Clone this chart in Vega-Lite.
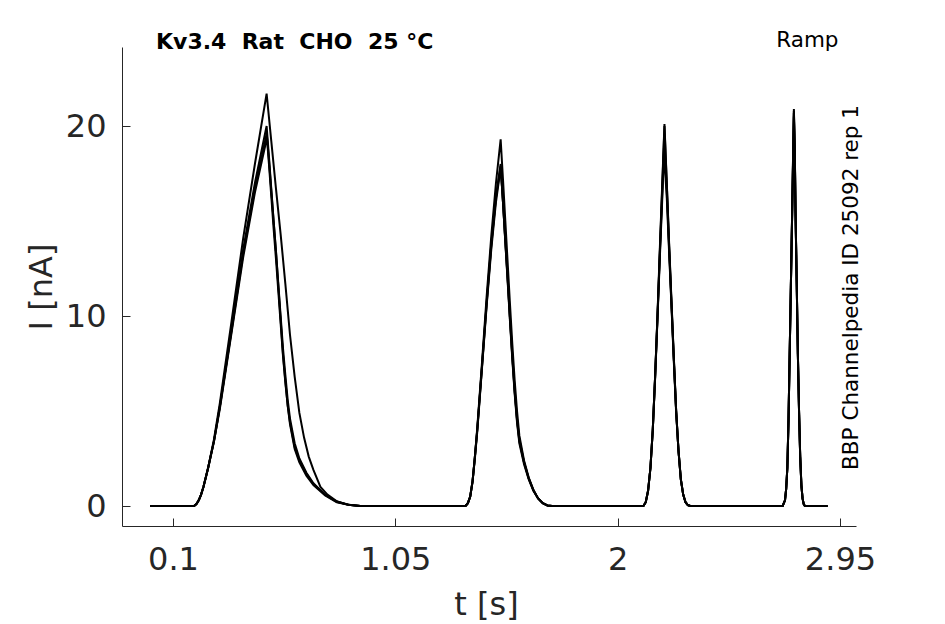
{
  "$schema": "https://vega.github.io/schema/vega-lite/v6.json",
  "width": 734,
  "height": 479,
  "autosize": {"type": "none"},
  "padding": {"left": 122, "top": 47, "right": 89, "bottom": 98},
  "background": "white",
  "config": {"view": {"stroke": null}, "font": "DejaVu Sans"},
  "title": {
    "text": "Kv3.4 \u00a0Rat \u00a0CHO \u00a025 °C",
    "anchor": "start",
    "frame": "group",
    "dx": 34,
    "offset": -42,
    "baseline": "alphabetic",
    "font": "DejaVu Sans",
    "fontSize": 22,
    "fontWeight": "bold",
    "color": "black"
  },
  "data": {"values": [
    {"rep":"A","t":0.002,"I":0},{"rep":"A","t":0.19,"I":0},{"rep":"A","t":0.2,"I":0.1},{"rep":"A","t":0.21,"I":0.3},{"rep":"A","t":0.22,"I":0.6},{"rep":"A","t":0.23,"I":1.0},{"rep":"A","t":0.24,"I":1.5},{"rep":"A","t":0.25,"I":2.0},{"rep":"A","t":0.275,"I":3.5},{"rep":"A","t":0.3,"I":5.4},{"rep":"A","t":0.35,"I":9.7},{"rep":"A","t":0.4,"I":14.1},{"rep":"A","t":0.45,"I":18.0},{"rep":"A","t":0.5,"I":21.7},{"rep":"A","t":0.52,"I":19.2},{"rep":"A","t":0.54,"I":16.7},{"rep":"A","t":0.56,"I":14.3},{"rep":"A","t":0.58,"I":11.7},{"rep":"A","t":0.6,"I":9.0},{"rep":"A","t":0.62,"I":6.8},{"rep":"A","t":0.64,"I":4.9},{"rep":"A","t":0.66,"I":3.6},{"rep":"A","t":0.68,"I":2.6},{"rep":"A","t":0.7,"I":1.9},{"rep":"A","t":0.73,"I":1.0},{"rep":"A","t":0.76,"I":0.6},{"rep":"A","t":0.8,"I":0.25},{"rep":"A","t":0.85,"I":0.06},{"rep":"A","t":0.9,"I":0},
    {"rep":"A","t":1.35,"I":0},{"rep":"A","t":1.36,"I":0.15},{"rep":"A","t":1.37,"I":0.5},{"rep":"A","t":1.38,"I":1.3},{"rep":"A","t":1.39,"I":2.6},{"rep":"A","t":1.4,"I":4.1},{"rep":"A","t":1.42,"I":7.5},{"rep":"A","t":1.44,"I":11.0},{"rep":"A","t":1.46,"I":14.2},{"rep":"A","t":1.48,"I":17.0},{"rep":"A","t":1.5,"I":19.3},{"rep":"A","t":1.51,"I":17.2},{"rep":"A","t":1.52,"I":15.0},{"rep":"A","t":1.53,"I":12.8},{"rep":"A","t":1.54,"I":10.6},{"rep":"A","t":1.55,"I":8.5},{"rep":"A","t":1.56,"I":6.6},{"rep":"A","t":1.57,"I":5.0},{"rep":"A","t":1.58,"I":3.7},{"rep":"A","t":1.6,"I":2.4},{"rep":"A","t":1.62,"I":1.5},{"rep":"A","t":1.64,"I":0.85},{"rep":"A","t":1.66,"I":0.4},{"rep":"A","t":1.68,"I":0.15},{"rep":"A","t":1.7,"I":0.03},{"rep":"A","t":1.72,"I":0},
    {"rep":"A","t":2.11,"I":0},{"rep":"A","t":2.12,"I":0.2},{"rep":"A","t":2.13,"I":0.8},{"rep":"A","t":2.14,"I":2.0},{"rep":"A","t":2.15,"I":4.0},{"rep":"A","t":2.16,"I":6.8},{"rep":"A","t":2.17,"I":10.0},{"rep":"A","t":2.18,"I":13.5},{"rep":"A","t":2.19,"I":16.8},{"rep":"A","t":2.2,"I":20.1},{"rep":"A","t":2.21,"I":17.0},{"rep":"A","t":2.22,"I":13.8},{"rep":"A","t":2.23,"I":10.8},{"rep":"A","t":2.24,"I":7.8},{"rep":"A","t":2.25,"I":5.0},{"rep":"A","t":2.26,"I":2.9},{"rep":"A","t":2.27,"I":1.4},{"rep":"A","t":2.28,"I":0.6},{"rep":"A","t":2.29,"I":0.2},{"rep":"A","t":2.3,"I":0.05},{"rep":"A","t":2.31,"I":0},
    {"rep":"A","t":2.705,"I":0},{"rep":"A","t":2.715,"I":0.3},{"rep":"A","t":2.72,"I":0.9},{"rep":"A","t":2.725,"I":2.0},{"rep":"A","t":2.73,"I":4.5},{"rep":"A","t":2.735,"I":8.0},{"rep":"A","t":2.74,"I":11.5},{"rep":"A","t":2.745,"I":15.0},{"rep":"A","t":2.75,"I":18.6},{"rep":"A","t":2.753,"I":20.7},{"rep":"A","t":2.757,"I":18.5},{"rep":"A","t":2.76,"I":15.5},{"rep":"A","t":2.765,"I":11.8},{"rep":"A","t":2.77,"I":8.0},{"rep":"A","t":2.775,"I":5.0},{"rep":"A","t":2.78,"I":2.6},{"rep":"A","t":2.785,"I":1.1},{"rep":"A","t":2.79,"I":0.4},{"rep":"A","t":2.795,"I":0.1},{"rep":"A","t":2.8,"I":0},{"rep":"A","t":2.897,"I":0},

    {"rep":"B","t":0.002,"I":0},{"rep":"B","t":0.19,"I":0},{"rep":"B","t":0.2,"I":0.1},{"rep":"B","t":0.21,"I":0.3},{"rep":"B","t":0.22,"I":0.6},{"rep":"B","t":0.23,"I":1.0},{"rep":"B","t":0.24,"I":1.5},{"rep":"B","t":0.25,"I":2.0},{"rep":"B","t":0.275,"I":3.4},{"rep":"B","t":0.3,"I":5.2},{"rep":"B","t":0.35,"I":9.3},{"rep":"B","t":0.4,"I":13.5},{"rep":"B","t":0.45,"I":17.0},{"rep":"B","t":0.5,"I":20.0},{"rep":"B","t":0.51,"I":18.4},{"rep":"B","t":0.52,"I":16.7},{"rep":"B","t":0.53,"I":15.0},{"rep":"B","t":0.54,"I":13.4},{"rep":"B","t":0.55,"I":11.6},{"rep":"B","t":0.56,"I":9.8},{"rep":"B","t":0.57,"I":8.0},{"rep":"B","t":0.58,"I":6.6},{"rep":"B","t":0.59,"I":5.3},{"rep":"B","t":0.6,"I":4.3},{"rep":"B","t":0.62,"I":3.0},{"rep":"B","t":0.64,"I":2.3},{"rep":"B","t":0.67,"I":1.6},{"rep":"B","t":0.7,"I":1.1},{"rep":"B","t":0.75,"I":0.55},{"rep":"B","t":0.8,"I":0.2},{"rep":"B","t":0.85,"I":0.06},{"rep":"B","t":0.9,"I":0},
    {"rep":"B","t":1.35,"I":0},{"rep":"B","t":1.36,"I":0.15},{"rep":"B","t":1.37,"I":0.5},{"rep":"B","t":1.38,"I":1.3},{"rep":"B","t":1.39,"I":2.6},{"rep":"B","t":1.4,"I":4.0},{"rep":"B","t":1.42,"I":7.3},{"rep":"B","t":1.44,"I":10.7},{"rep":"B","t":1.46,"I":13.8},{"rep":"B","t":1.48,"I":16.3},{"rep":"B","t":1.5,"I":18.0},{"rep":"B","t":1.51,"I":16.0},{"rep":"B","t":1.52,"I":13.9},{"rep":"B","t":1.53,"I":11.8},{"rep":"B","t":1.54,"I":9.7},{"rep":"B","t":1.55,"I":7.7},{"rep":"B","t":1.56,"I":5.9},{"rep":"B","t":1.57,"I":4.4},{"rep":"B","t":1.58,"I":3.3},{"rep":"B","t":1.6,"I":2.2},{"rep":"B","t":1.62,"I":1.4},{"rep":"B","t":1.64,"I":0.8},{"rep":"B","t":1.66,"I":0.4},{"rep":"B","t":1.68,"I":0.15},{"rep":"B","t":1.7,"I":0.03},{"rep":"B","t":1.72,"I":0},
    {"rep":"B","t":2.11,"I":0},{"rep":"B","t":2.12,"I":0.2},{"rep":"B","t":2.13,"I":0.8},{"rep":"B","t":2.14,"I":2.0},{"rep":"B","t":2.15,"I":4.0},{"rep":"B","t":2.16,"I":6.8},{"rep":"B","t":2.17,"I":9.9},{"rep":"B","t":2.18,"I":13.3},{"rep":"B","t":2.19,"I":16.6},{"rep":"B","t":2.2,"I":20.0},{"rep":"B","t":2.21,"I":16.9},{"rep":"B","t":2.22,"I":13.7},{"rep":"B","t":2.23,"I":10.7},{"rep":"B","t":2.24,"I":7.8},{"rep":"B","t":2.25,"I":5.0},{"rep":"B","t":2.26,"I":2.9},{"rep":"B","t":2.27,"I":1.4},{"rep":"B","t":2.28,"I":0.6},{"rep":"B","t":2.29,"I":0.2},{"rep":"B","t":2.3,"I":0.05},{"rep":"B","t":2.31,"I":0},
    {"rep":"B","t":2.705,"I":0},{"rep":"B","t":2.715,"I":0.3},{"rep":"B","t":2.72,"I":0.9},{"rep":"B","t":2.725,"I":2.0},{"rep":"B","t":2.73,"I":4.5},{"rep":"B","t":2.735,"I":8.0},{"rep":"B","t":2.74,"I":11.5},{"rep":"B","t":2.745,"I":15.0},{"rep":"B","t":2.75,"I":18.8},{"rep":"B","t":2.753,"I":20.9},{"rep":"B","t":2.757,"I":18.6},{"rep":"B","t":2.76,"I":15.5},{"rep":"B","t":2.765,"I":11.8},{"rep":"B","t":2.77,"I":8.0},{"rep":"B","t":2.775,"I":5.0},{"rep":"B","t":2.78,"I":2.6},{"rep":"B","t":2.785,"I":1.1},{"rep":"B","t":2.79,"I":0.4},{"rep":"B","t":2.795,"I":0.1},{"rep":"B","t":2.8,"I":0},{"rep":"B","t":2.897,"I":0},

    {"rep":"C","t":0.002,"I":0},{"rep":"C","t":0.19,"I":0},{"rep":"C","t":0.2,"I":0.1},{"rep":"C","t":0.21,"I":0.3},{"rep":"C","t":0.22,"I":0.6},{"rep":"C","t":0.23,"I":1.0},{"rep":"C","t":0.24,"I":1.5},{"rep":"C","t":0.25,"I":2.0},{"rep":"C","t":0.275,"I":3.4},{"rep":"C","t":0.3,"I":5.2},{"rep":"C","t":0.35,"I":9.2},{"rep":"C","t":0.4,"I":13.3},{"rep":"C","t":0.45,"I":16.7},{"rep":"C","t":0.5,"I":19.6},{"rep":"C","t":0.51,"I":18.0},{"rep":"C","t":0.52,"I":16.3},{"rep":"C","t":0.53,"I":14.6},{"rep":"C","t":0.54,"I":13.0},{"rep":"C","t":0.55,"I":11.3},{"rep":"C","t":0.56,"I":9.6},{"rep":"C","t":0.57,"I":7.9},{"rep":"C","t":0.58,"I":6.5},{"rep":"C","t":0.59,"I":5.3},{"rep":"C","t":0.6,"I":4.4},{"rep":"C","t":0.62,"I":3.1},{"rep":"C","t":0.64,"I":2.4},{"rep":"C","t":0.67,"I":1.7},{"rep":"C","t":0.7,"I":1.15},{"rep":"C","t":0.75,"I":0.6},{"rep":"C","t":0.8,"I":0.22},{"rep":"C","t":0.85,"I":0.07},{"rep":"C","t":0.9,"I":0},
    {"rep":"C","t":1.35,"I":0},{"rep":"C","t":1.36,"I":0.15},{"rep":"C","t":1.37,"I":0.5},{"rep":"C","t":1.38,"I":1.3},{"rep":"C","t":1.39,"I":2.6},{"rep":"C","t":1.4,"I":4.0},{"rep":"C","t":1.42,"I":7.3},{"rep":"C","t":1.44,"I":10.6},{"rep":"C","t":1.46,"I":13.7},{"rep":"C","t":1.48,"I":16.2},{"rep":"C","t":1.5,"I":17.9},{"rep":"C","t":1.51,"I":16.0},{"rep":"C","t":1.52,"I":13.9},{"rep":"C","t":1.53,"I":11.9},{"rep":"C","t":1.54,"I":9.8},{"rep":"C","t":1.55,"I":7.8},{"rep":"C","t":1.56,"I":6.0},{"rep":"C","t":1.57,"I":4.5},{"rep":"C","t":1.58,"I":3.4},{"rep":"C","t":1.6,"I":2.3},{"rep":"C","t":1.62,"I":1.45},{"rep":"C","t":1.64,"I":0.82},{"rep":"C","t":1.66,"I":0.4},{"rep":"C","t":1.68,"I":0.15},{"rep":"C","t":1.7,"I":0.03},{"rep":"C","t":1.72,"I":0},
    {"rep":"C","t":2.11,"I":0},{"rep":"C","t":2.12,"I":0.2},{"rep":"C","t":2.13,"I":0.8},{"rep":"C","t":2.14,"I":2.0},{"rep":"C","t":2.15,"I":4.0},{"rep":"C","t":2.16,"I":6.7},{"rep":"C","t":2.17,"I":9.8},{"rep":"C","t":2.18,"I":13.0},{"rep":"C","t":2.19,"I":16.0},{"rep":"C","t":2.198,"I":18.6},{"rep":"C","t":2.21,"I":16.2},{"rep":"C","t":2.22,"I":13.3},{"rep":"C","t":2.23,"I":10.5},{"rep":"C","t":2.24,"I":7.6},{"rep":"C","t":2.25,"I":4.9},{"rep":"C","t":2.26,"I":2.9},{"rep":"C","t":2.27,"I":1.4},{"rep":"C","t":2.28,"I":0.6},{"rep":"C","t":2.29,"I":0.2},{"rep":"C","t":2.3,"I":0.05},{"rep":"C","t":2.31,"I":0},
    {"rep":"C","t":2.705,"I":0},{"rep":"C","t":2.715,"I":0.3},{"rep":"C","t":2.72,"I":0.9},{"rep":"C","t":2.725,"I":2.0},{"rep":"C","t":2.73,"I":4.5},{"rep":"C","t":2.735,"I":8.0},{"rep":"C","t":2.74,"I":11.5},{"rep":"C","t":2.745,"I":15.0},{"rep":"C","t":2.75,"I":18.7},{"rep":"C","t":2.753,"I":20.8},{"rep":"C","t":2.757,"I":18.6},{"rep":"C","t":2.76,"I":15.5},{"rep":"C","t":2.765,"I":11.8},{"rep":"C","t":2.77,"I":8.0},{"rep":"C","t":2.775,"I":5.0},{"rep":"C","t":2.78,"I":2.6},{"rep":"C","t":2.785,"I":1.1},{"rep":"C","t":2.79,"I":0.4},{"rep":"C","t":2.795,"I":0.1},{"rep":"C","t":2.8,"I":0},{"rep":"C","t":2.897,"I":0},

    {"rep":"D","t":0.002,"I":0},{"rep":"D","t":0.19,"I":0},{"rep":"D","t":0.2,"I":0.1},{"rep":"D","t":0.21,"I":0.3},{"rep":"D","t":0.22,"I":0.6},{"rep":"D","t":0.23,"I":1.0},{"rep":"D","t":0.24,"I":1.5},{"rep":"D","t":0.25,"I":2.0},{"rep":"D","t":0.275,"I":3.4},{"rep":"D","t":0.3,"I":5.1},{"rep":"D","t":0.35,"I":9.1},{"rep":"D","t":0.4,"I":13.1},{"rep":"D","t":0.45,"I":16.5},{"rep":"D","t":0.502,"I":19.4},{"rep":"D","t":0.51,"I":18.2},{"rep":"D","t":0.52,"I":16.6},{"rep":"D","t":0.53,"I":15.0},{"rep":"D","t":0.54,"I":13.4},{"rep":"D","t":0.55,"I":11.7},{"rep":"D","t":0.56,"I":10.0},{"rep":"D","t":0.57,"I":8.3},{"rep":"D","t":0.58,"I":6.9},{"rep":"D","t":0.59,"I":5.6},{"rep":"D","t":0.6,"I":4.6},{"rep":"D","t":0.62,"I":3.3},{"rep":"D","t":0.64,"I":2.5},{"rep":"D","t":0.67,"I":1.75},{"rep":"D","t":0.7,"I":1.2},{"rep":"D","t":0.75,"I":0.6},{"rep":"D","t":0.8,"I":0.22},{"rep":"D","t":0.85,"I":0.07},{"rep":"D","t":0.9,"I":0},
    {"rep":"D","t":1.35,"I":0},{"rep":"D","t":1.36,"I":0.15},{"rep":"D","t":1.37,"I":0.5},{"rep":"D","t":1.38,"I":1.3},{"rep":"D","t":1.39,"I":2.5},{"rep":"D","t":1.4,"I":3.9},{"rep":"D","t":1.42,"I":7.2},{"rep":"D","t":1.44,"I":10.5},{"rep":"D","t":1.46,"I":13.5},{"rep":"D","t":1.48,"I":16.0},{"rep":"D","t":1.5,"I":17.8},{"rep":"D","t":1.51,"I":16.0},{"rep":"D","t":1.52,"I":14.0},{"rep":"D","t":1.53,"I":12.0},{"rep":"D","t":1.54,"I":9.9},{"rep":"D","t":1.55,"I":7.9},{"rep":"D","t":1.56,"I":6.1},{"rep":"D","t":1.57,"I":4.6},{"rep":"D","t":1.58,"I":3.5},{"rep":"D","t":1.6,"I":2.3},{"rep":"D","t":1.62,"I":1.45},{"rep":"D","t":1.64,"I":0.82},{"rep":"D","t":1.66,"I":0.4},{"rep":"D","t":1.68,"I":0.15},{"rep":"D","t":1.7,"I":0.03},{"rep":"D","t":1.72,"I":0},
    {"rep":"D","t":2.11,"I":0},{"rep":"D","t":2.12,"I":0.2},{"rep":"D","t":2.13,"I":0.8},{"rep":"D","t":2.14,"I":2.0},{"rep":"D","t":2.15,"I":4.0},{"rep":"D","t":2.16,"I":6.8},{"rep":"D","t":2.17,"I":9.9},{"rep":"D","t":2.18,"I":13.2},{"rep":"D","t":2.19,"I":16.3},{"rep":"D","t":2.199,"I":19.2},{"rep":"D","t":2.21,"I":16.6},{"rep":"D","t":2.22,"I":13.5},{"rep":"D","t":2.23,"I":10.6},{"rep":"D","t":2.24,"I":7.7},{"rep":"D","t":2.25,"I":5.0},{"rep":"D","t":2.26,"I":2.9},{"rep":"D","t":2.27,"I":1.4},{"rep":"D","t":2.28,"I":0.6},{"rep":"D","t":2.29,"I":0.2},{"rep":"D","t":2.3,"I":0.05},{"rep":"D","t":2.31,"I":0},
    {"rep":"D","t":2.705,"I":0},{"rep":"D","t":2.715,"I":0.3},{"rep":"D","t":2.72,"I":0.9},{"rep":"D","t":2.725,"I":2.0},{"rep":"D","t":2.73,"I":4.5},{"rep":"D","t":2.735,"I":8.0},{"rep":"D","t":2.74,"I":11.5},{"rep":"D","t":2.745,"I":14.9},{"rep":"D","t":2.75,"I":18.5},{"rep":"D","t":2.753,"I":20.5},{"rep":"D","t":2.757,"I":18.4},{"rep":"D","t":2.76,"I":15.4},{"rep":"D","t":2.765,"I":11.8},{"rep":"D","t":2.77,"I":8.0},{"rep":"D","t":2.775,"I":5.0},{"rep":"D","t":2.78,"I":2.6},{"rep":"D","t":2.785,"I":1.1},{"rep":"D","t":2.79,"I":0.4},{"rep":"D","t":2.795,"I":0.1},{"rep":"D","t":2.8,"I":0},{"rep":"D","t":2.897,"I":0}
  ]},
  "layer": [
    {
      "mark": {"type": "line", "color": "black", "strokeWidth": 2},
      "encoding": {
        "x": {
          "field": "t", "type": "quantitative",
          "scale": {"domain": [-0.1179, 3.0184], "nice": false, "zero": false},
          "axis": {
            "values": [0.1, 1.05, 2, 2.95], "format": ".3~g", "grid": false,
            "title": "t [s]",
            "domainColor": "#262626", "domainWidth": 1,
            "tickColor": "#262626", "tickWidth": 1, "tickSize": -8,
            "labelFont": "DejaVu Sans", "labelFontSize": 32, "labelColor": "#262626",
            "labelPadding": 26, "labelFlush": false, "labelOverlap": false,
            "titleFont": "DejaVu Sans", "titleFontSize": 32, "titleFontWeight": "normal", "titleColor": "#262626",
            "titleX": 364, "titleY": 88, "titleAlign": "center", "titleBaseline": "alphabetic"
          }
        },
        "y": {
          "field": "I", "type": "quantitative",
          "scale": {"domain": [-1.0526, 24.158], "nice": false, "zero": false},
          "axis": {
            "values": [0, 10, 20], "grid": false,
            "title": "I [nA]",
            "domainColor": "#262626", "domainWidth": 1,
            "tickColor": "#262626", "tickWidth": 1, "tickSize": -8,
            "labelFont": "DejaVu Sans", "labelFontSize": 32, "labelColor": "#262626",
            "labelPadding": 24, "labelFlush": false, "labelOverlap": false,
            "titleFont": "DejaVu Sans", "titleFontSize": 32, "titleFontWeight": "normal", "titleColor": "#262626",
            "titleAngle": 270, "titleX": -71, "titleY": 239.5, "titleAlign": "center", "titleBaseline": "alphabetic"
          }
        },
        "detail": {"field": "rep", "type": "nominal"}
      }
    },
    {
      "data": {"values": []},
      "mark": "point",
      "encoding": {
        "x": {
          "field": "t", "type": "quantitative",
          "axis": {
            "orient": "top", "title": "Ramp", "labels": false, "ticks": false, "domain": false, "grid": false,
            "titleFont": "DejaVu Sans", "titleFontSize": 21.5, "titleFontWeight": "normal", "titleColor": "black",
            "titleX": 716, "titleY": -1, "titleAlign": "right", "titleBaseline": "alphabetic"
          }
        },
        "y": {
          "field": "I", "type": "quantitative",
          "axis": {
            "orient": "right", "title": "BBP Channelpedia ID 25092 rep 1", "labels": false, "ticks": false, "domain": false, "grid": false,
            "titleFont": "DejaVu Sans", "titleFontSize": 21.5, "titleFontWeight": "normal", "titleColor": "black",
            "titleAngle": 270, "titleX": 1, "titleY": 240, "titleAlign": "center", "titleBaseline": "alphabetic"
          }
        }
      }
    }
  ],
  "resolve": {"axis": {"x": "independent", "y": "independent"}}
}
